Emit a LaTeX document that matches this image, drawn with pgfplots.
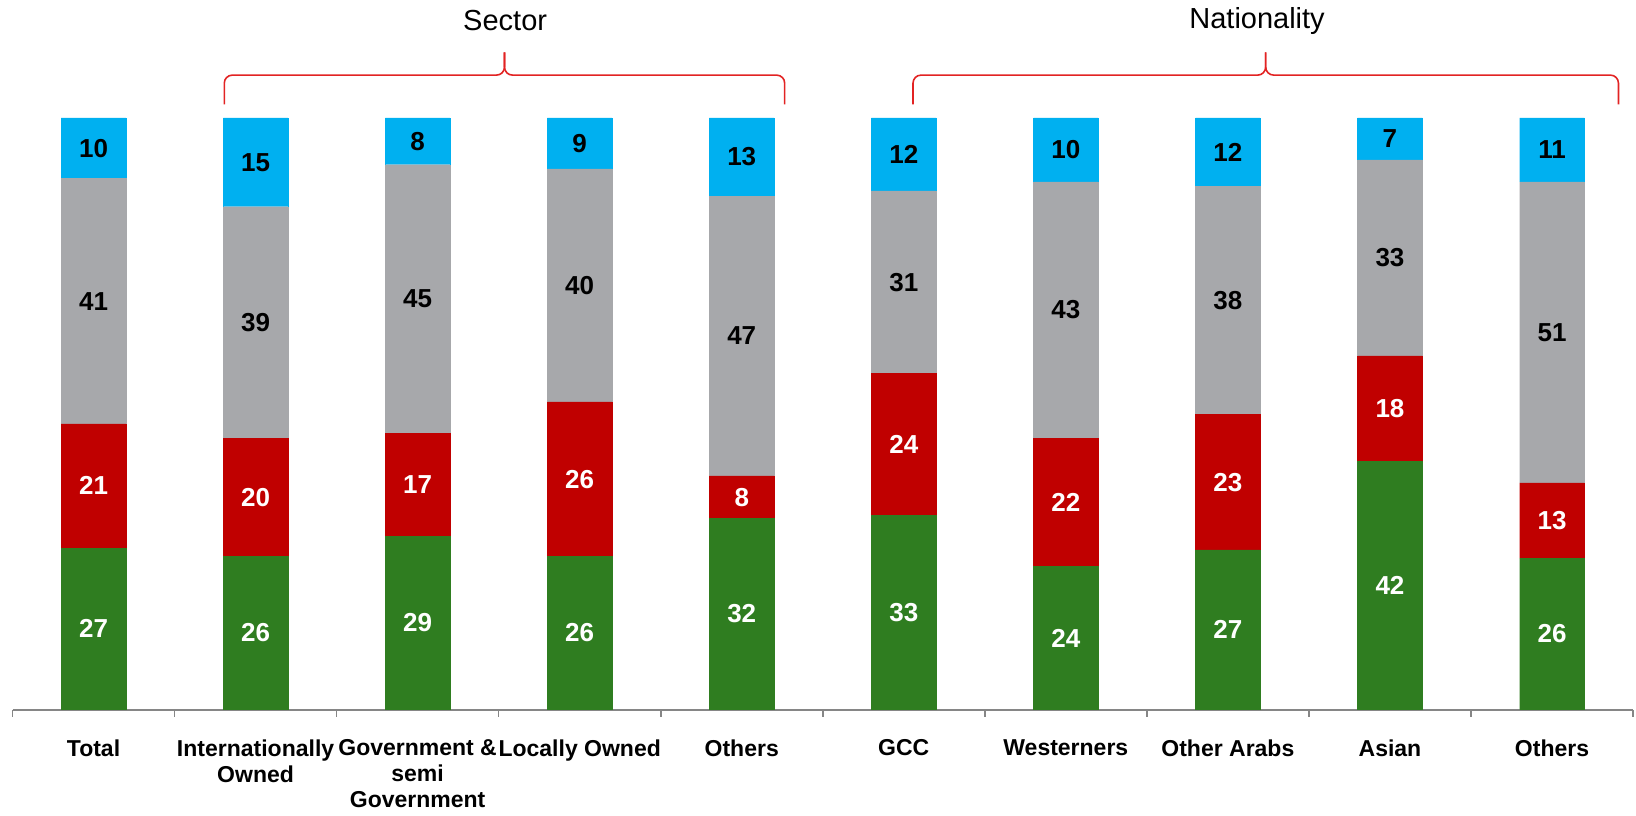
\documentclass[border=0pt]{standalone}
\usepackage{pgfplots}
\pgfplotsset{compat=1.18}
\usepackage{pgfplotstable}
\usepackage{fontspec}
\setmainfont{Liberation Sans}
\definecolor{cgreen}{RGB}{47,125,32}
\definecolor{cred}{RGB}{192,0,0}
\definecolor{cgray}{RGB}{167,168,171}
\definecolor{cblue}{RGB}{0,176,240}
\definecolor{cbrace}{RGB}{226,35,35}
\definecolor{caxis}{RGB}{134,134,134}

\pgfplotstableread{
x g gl r rl s sl b bl
0 27.3 27 21.0 21 41.5 41 10.2 10
1 25.9 26 20.0 20 39.1 39 15.0 15
2 29.3 29 17.4 17 45.4 45 7.9 8
3 25.9 26 26.1 26 39.4 40 8.6 9
4 32.3 32 7.2 8 47.3 47 13.2 13
5 32.8 33 24.0 24 30.9 31 12.3 12
6 24.2 24 21.7 22 43.3 43 10.8 10
7 27.0 27 22.9 23 38.5 38 11.6 12
8 42.0 42 17.8 18 33.1 33 7.1 7
9 25.6 26 12.7 13 50.9 51 10.8 11
}\data

\begin{document}
\begin{tikzpicture}
\begin{axis}[
  scale only axis,
  width=810.25pt, height=295.75pt,
  ybar stacked,
  bar width=32.3pt,
  xmin=-0.5, xmax=9.5, ymin=0, ymax=100,
  enlarge x limits=false, enlarge y limits=false,
  axis x line=bottom, axis y line=none,
  x axis line style={-, draw=caxis, line width=1pt},
  xtick={0,...,9},
  xticklabels={Total,{Internationally\\Owned},{Government \&\\semi\\Government},Locally Owned,Others,GCC,Westerners,Other Arabs,Asian,Others},
  xticklabel style={align=center, font=\fontsize{11.5}{13}\selectfont\bfseries, yshift=-11.6pt},
  major tick length=0pt,
  minor xtick={-0.5,0.5,...,9.5},
  minor tick length=3.5pt,
  tick align=outside,
  minor tick style={draw=caxis, line width=0.8pt},
  ytick=\empty,
  clip=false,
  point meta=explicit symbolic,
  nodes near coords,
  every node near coord/.append style={anchor=center, font=\fontsize{13}{15}\selectfont\bfseries},
]
\addplot+[fill=cgreen, draw=cgreen, line width=0.2pt, every node near coord/.append style={text=white}] table[x=x, y=g, meta=gl] {\data};
\addplot+[fill=cred, draw=cred, line width=0.2pt, every node near coord/.append style={text=white}] table[x=x, y=r, meta=rl] {\data};
\addplot+[fill=cgray, draw=cgray, line width=0.2pt, every node near coord/.append style={text=black}] table[x=x, y=s, meta=sl] {\data};
\addplot+[fill=cblue, draw=cblue, line width=0.2pt, every node near coord/.append style={text=black}] table[x=x, y=b, meta=bl] {\data};

\draw[cbrace, line width=0.8pt, rounded corners=4pt]
  (axis cs:0.807,102.3) -- (axis cs:0.807,107.25) -- (axis cs:2.536,107.25) -- (axis cs:2.536,111.1);
\draw[cbrace, line width=0.8pt, rounded corners=4pt]
  (axis cs:2.536,111.1) -- (axis cs:2.536,107.25) -- (axis cs:4.265,107.25) -- (axis cs:4.265,102.3);
\draw[cbrace, line width=0.8pt, rounded corners=4pt]
  (axis cs:5.057,102.3) -- (axis cs:5.057,107.25) -- (axis cs:7.233,107.25) -- (axis cs:7.233,111.1);
\draw[cbrace, line width=0.8pt, rounded corners=4pt]
  (axis cs:7.233,111.1) -- (axis cs:7.233,107.25) -- (axis cs:9.41,107.25) -- (axis cs:9.41,102.3);
\node[font=\fontsize{14.5}{16}\selectfont] at (axis cs:2.54,116.4) {Sector};
\node[font=\fontsize{14.5}{16}\selectfont] at (axis cs:7.18,116.4) {Nationality};
\end{axis}
\pgfresetboundingbox
\path (-6.25pt,-52.75pt) rectangle (811.75pt,354.75pt);
\end{tikzpicture}
\end{document}
